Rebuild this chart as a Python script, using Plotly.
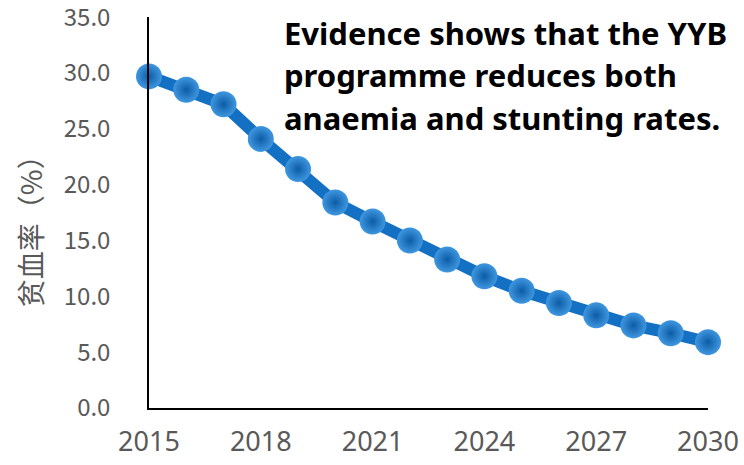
import plotly.graph_objects as go

# anaemia rate by year
years = list(range(2015, 2031))
rate = [29.7, 28.5, 27.2, 24.1, 21.4, 18.4, 16.7, 15.0, 13.3,
        11.8, 10.5, 9.4, 8.3, 7.4, 6.7, 5.9]

x_ticks = [2015, 2018, 2021, 2024, 2027, 2030]
y_ticks = [0, 5, 10, 15, 20, 25, 30, 35]

y_title = "贫血率（%）"
note_lines = [
    "Evidence shows that the YYB",
    "programme reduces both",
    "anaemia and stunting rates.",
]

fig = go.Figure()

fig.add_trace(
    go.Scatter(
        x=years,
        y=rate,
        mode="lines+markers",
        line=dict(color="#1370c3", width=12),
        marker=dict(
            size=26,
            color="#3f97e0",
            gradient=dict(type="radial", color="#0c5ca6"),
            line=dict(width=0),
        ),
        cliponaxis=False,
        showlegend=False,
    )
)

fig.update_layout(
    width=744,
    height=465,
    margin=dict(l=149, r=36, t=17, b=57),
    plot_bgcolor="white",
    paper_bgcolor="white",
    xaxis=dict(
        range=[2015, 2030],
        tickvals=x_ticks,
        showgrid=False,
        zeroline=False,
        showline=True,
        linecolor="black",
        linewidth=1.5,
        ticks="",
        ticklabelstandoff=9,
        ticklabeloverflow="allow",
        automargin=False,
        tickfont=dict(family="Noto Sans", size=27, color="#595959"),
    ),
    yaxis=dict(
        range=[0, 35.02],
        tickvals=y_ticks,
        tickformat=".1f",
        showgrid=False,
        zeroline=False,
        showline=True,
        linecolor="black",
        linewidth=1.5,
        ticks="",
        ticklabelstandoff=32,
        ticklabeloverflow="allow",
        automargin=False,
        tickfont=dict(family="Noto Sans CJK SC", size=24, color="#595959"),
    ),
)

# y axis title, placed by hand like the original
fig.add_annotation(
    text=y_title,
    textangle=-90,
    xref="paper",
    yref="paper",
    x=-0.213,
    y=0.47,
    xanchor="center",
    yanchor="middle",
    showarrow=False,
    font=dict(family="Noto Sans CJK SC", size=28, color="#595959"),
)

# text box in the upper right
for i, line in enumerate(note_lines):
    fig.add_annotation(
        text="<b>" + line + "</b>",
        xref="paper",
        yref="paper",
        x=0.238,
        y=0.959 - i * 0.1085,
        xanchor="left",
        yanchor="middle",
        showarrow=False,
        font=dict(family="Noto Sans", size=31, color="black"),
    )

# drop the page's default body margin so the figure sits at the top-left corner
fig.write_html(
    "out.html",
    config={"displayModeBar": False},
    post_script="document.body.style.margin = '0';",
)
